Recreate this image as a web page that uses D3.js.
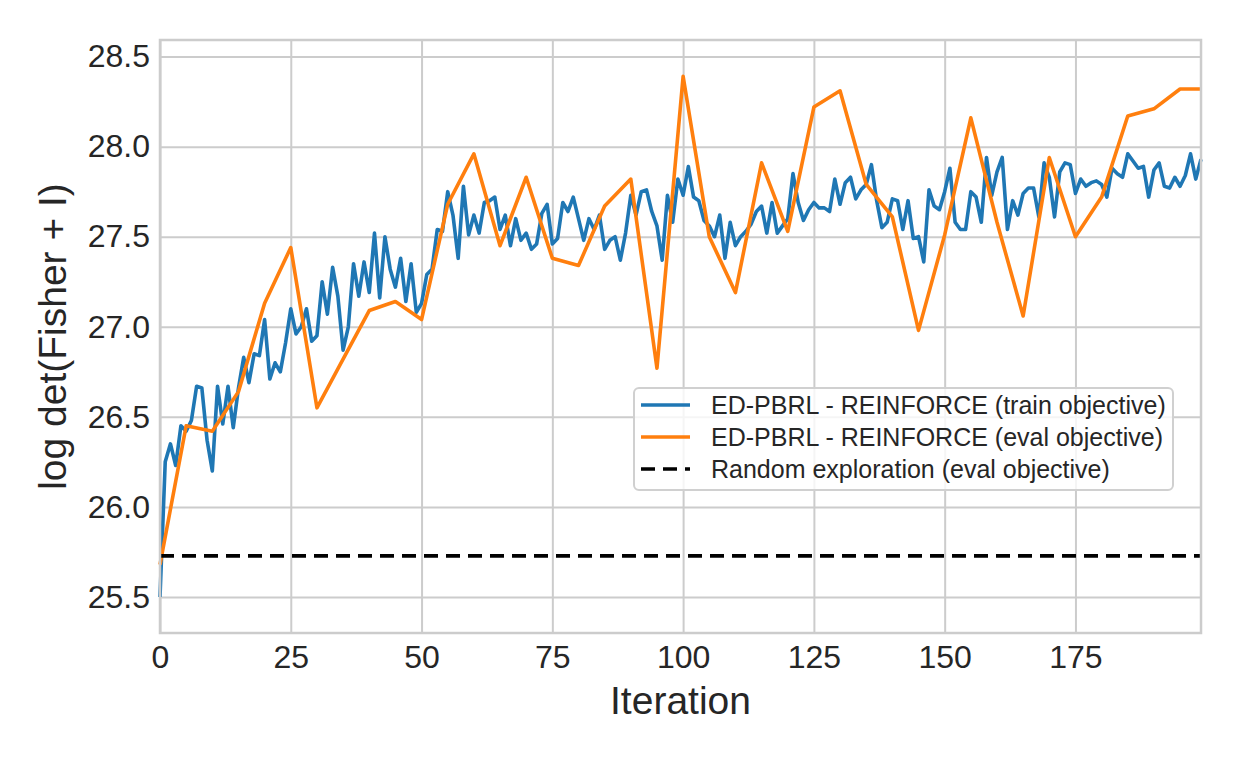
<!DOCTYPE html>
<html>
<head>
<meta charset="utf-8">
<script src="https://cdn.jsdelivr.net/npm/d3@7"></script>
<style>
  body { margin: 0; background: #fff; }
  text { font-family: "Liberation Sans", Arial, sans-serif; fill: #262626; }
</style>
</head>
<body>
<div id="chart"></div>
<script>
// chart data
var trainValues = [
    25.5, 26.25, 26.35, 26.23, 26.45, 26.42, 26.48, 26.67, 26.66, 26.37,
    26.2, 26.67, 26.46, 26.67, 26.44, 26.66, 26.83, 26.69, 26.85, 26.84,
    27.04, 26.71, 26.8, 26.75, 26.91, 27.1, 26.96, 27.0, 27.1, 26.92,
    26.95, 27.25, 27.07, 27.33, 27.17, 26.87, 27.0, 27.35, 27.17, 27.36,
    27.19, 27.52, 27.16, 27.5, 27.32, 27.22, 27.38, 27.14, 27.35, 27.08,
    27.13, 27.29, 27.32, 27.54, 27.53, 27.75, 27.62, 27.38, 27.78, 27.51,
    27.62, 27.52, 27.69, 27.7, 27.72, 27.54, 27.62, 27.45, 27.6, 27.48,
    27.52, 27.43, 27.46, 27.63, 27.68, 27.46, 27.49, 27.69, 27.64, 27.72,
    27.6, 27.48, 27.6, 27.54, 27.62, 27.43, 27.48, 27.5, 27.37, 27.52,
    27.73, 27.62, 27.75, 27.76, 27.64, 27.56, 27.37, 27.73, 27.58, 27.82,
    27.73, 27.89, 27.72, 27.7, 27.59, 27.56, 27.5, 27.62, 27.38, 27.58,
    27.45, 27.5, 27.53, 27.57, 27.64, 27.67, 27.52, 27.69, 27.52, 27.56,
    27.6, 27.85, 27.69, 27.59, 27.65, 27.69, 27.66, 27.66, 27.64, 27.82,
    27.68, 27.8, 27.83, 27.71, 27.76, 27.79, 27.9, 27.7, 27.55, 27.58,
    27.71, 27.7, 27.54, 27.7, 27.49, 27.5, 27.36, 27.76, 27.67, 27.65,
    27.75, 27.88, 27.58, 27.54, 27.54, 27.75, 27.72, 27.58, 27.94, 27.73,
    27.86, 27.94, 27.54, 27.7, 27.62, 27.74, 27.77, 27.77, 27.61, 27.91,
    27.83, 27.61, 27.86, 27.91, 27.9, 27.74, 27.82, 27.78, 27.8, 27.81,
    27.79, 27.72, 27.88, 27.85, 27.83, 27.96, 27.92, 27.88, 27.89, 27.72,
    27.87, 27.91, 27.78, 27.77, 27.83, 27.78, 27.84, 27.96, 27.82, 27.93
];

var evalIters = [0, 5, 10, 15, 20, 25, 30, 35, 40, 45, 50, 55, 60, 65, 70, 75, 80, 85, 90, 95,
    100, 105, 110, 115, 120, 125, 130, 135, 140, 145, 150, 155, 160, 165, 170, 175, 180, 185, 190, 195, 199];
var evalValues = [25.68, 26.45, 26.42, 26.64, 27.13, 27.44, 26.55, 26.82, 27.09, 27.14,
    27.04, 27.68, 27.96, 27.45, 27.83, 27.38, 27.34, 27.67, 27.82, 26.77,
    28.39, 27.5, 27.19, 27.91, 27.53, 28.22, 28.31, 27.79, 27.61, 26.98,
    27.51, 28.16, 27.58, 27.06, 27.94, 27.5, 27.72, 28.17, 28.21, 28.32, 28.32];

var randomValue = 25.728;

var xTicks = [0, 25, 50, 75, 100, 125, 150, 175];
var yTicks = [25.5, 26.0, 26.5, 27.0, 27.5, 28.0, 28.5];

var legendLabels = [
    "ED-PBRL - REINFORCE (train objective)",
    "ED-PBRL - REINFORCE (eval objective)",
    "Random exploration (eval objective)"
];
var legendColors = ["#1f77b4", "#ff7f0e", "#000000"];

// svg area and margins
var svgWidth = 1240;
var svgHeight = 760;
var margin = { top: 40, right: 39, bottom: 127, left: 160 };
var chartWidth = svgWidth - margin.left - margin.right;
var chartHeight = svgHeight - margin.top - margin.bottom;

var svg = d3.select("#chart")
    .append("svg")
    .attr("width", svgWidth)
    .attr("height", svgHeight);

var chartGroup = svg.append("g")
    .attr("transform", `translate(${margin.left}, ${margin.top})`);

// scales
var xScale = d3.scaleLinear().domain([0, 199]).range([0, chartWidth]);
var yScale = d3.scaleLinear().domain([25.30, 28.592]).range([chartHeight, 0]);

// axes with gridlines
var xAxis = chartGroup.append("g")
    .attr("transform", `translate(0, ${chartHeight})`)
    .call(d3.axisBottom(xScale).tickValues(xTicks).tickSize(-chartHeight).tickPadding(12));

var yAxis = chartGroup.append("g")
    .call(d3.axisLeft(yScale).tickValues(yTicks).tickFormat(d3.format(".1f")).tickSize(-chartWidth).tickPadding(10));

[xAxis, yAxis].forEach(function(ax) {
    ax.select(".domain").remove();
    ax.selectAll(".tick line").attr("stroke", "#cccccc").attr("stroke-width", 2);
    ax.selectAll(".tick text").attr("font-size", 32).style("fill", "#262626");
});

// lines
var trainLine = d3.line()
    .x((d, i) => xScale(i))
    .y(d => yScale(d));

var evalLine = d3.line()
    .x((d, i) => xScale(evalIters[i]))
    .y(d => yScale(d));

chartGroup.append("path")
    .datum(trainValues)
    .attr("d", trainLine)
    .attr("fill", "none")
    .attr("stroke", legendColors[0])
    .attr("stroke-width", 3.6)
    .attr("stroke-linejoin", "round");

chartGroup.append("path")
    .datum(evalValues)
    .attr("d", evalLine)
    .attr("fill", "none")
    .attr("stroke", legendColors[1])
    .attr("stroke-width", 3.6)
    .attr("stroke-linejoin", "round");

chartGroup.append("line")
    .attr("x1", xScale(0))
    .attr("x2", xScale(199))
    .attr("y1", yScale(randomValue))
    .attr("y2", yScale(randomValue))
    .attr("stroke", legendColors[2])
    .attr("stroke-width", 3.6)
    .attr("stroke-dasharray", "14,8");

// frame
chartGroup.append("rect")
    .attr("width", chartWidth)
    .attr("height", chartHeight)
    .attr("fill", "none")
    .attr("stroke", "#cccccc")
    .attr("stroke-width", 2.5);

// axis labels
chartGroup.append("text")
    .attr("x", chartWidth / 2)
    .attr("y", chartHeight + 81)
    .attr("text-anchor", "middle")
    .attr("font-size", 39)
    .text("Iteration");

chartGroup.append("text")
    .attr("transform", "rotate(-90)")
    .attr("x", -chartHeight / 2)
    .attr("y", -94)
    .attr("text-anchor", "middle")
    .attr("font-size", 39)
    .text("log det(Fisher + I)");

// legend
var legend = svg.append("g")
    .attr("transform", "translate(634, 388)");

legend.append("rect")
    .attr("width", 539)
    .attr("height", 102)
    .attr("rx", 5)
    .attr("fill", "#ffffff")
    .attr("fill-opacity", 0.8)
    .attr("stroke", "#d0d0d0")
    .attr("stroke-width", 2);

legendLabels.forEach(function(label, i) {
    var row = legend.append("g")
        .attr("transform", `translate(0, ${17 + i * 32})`);
    row.append("line")
        .attr("x1", 7)
        .attr("x2", 56)
        .attr("stroke", legendColors[i])
        .attr("stroke-width", 3.6)
        .attr("stroke-dasharray", i === 2 ? "14,8" : null);
    row.append("text")
        .attr("x", 77)
        .attr("y", 9)
        .attr("font-size", 25)
        .text(label);
});
</script>
</body>
</html>
